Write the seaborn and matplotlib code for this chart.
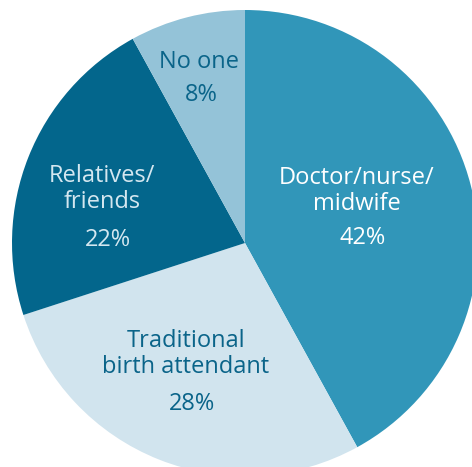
import matplotlib
matplotlib.use("Agg")
import matplotlib.pyplot as plt
import seaborn as sns

# ── Data ──────────────────────────────────────────────────────────────────────
categories = ["Doctor/nurse/\nmidwife", "Traditional\nbirth attendant", "Relatives/\nfriends", "No one"]
shares = [42, 28, 22, 8]
slice_colors = ["#3196b9", "#d1e4ee", "#03668c", "#94c3d8"]
text_colors = ["#ffffff", "#0a6489", "#d4e7f0", "#0a6489"]

# label centres (pixels in the 472x467 image) for name block and percentage
name_px = [(357, 191), (186, 354), (102, 189), (199, 62)]
pct_px = [(363, 238), (192, 404), (108, 240), (201, 95)]

# ── Layout ────────────────────────────────────────────────────────────────────
W, H = 472, 467
CX, CY, R = 245, 243, 233

sns.set_theme(style="white")
plt.rcParams["font.family"] = ["Open Sans", "DejaVu Sans"]

fig = plt.figure(figsize=(W / 100, H / 100), dpi=100)
ax = fig.add_axes([(CX - R) / W, (H - CY - R) / H, 2 * R / W, 2 * R / H])
ax.pie(shares, colors=slice_colors, startangle=90, counterclock=False,
       radius=1, wedgeprops=dict(linewidth=0))
ax.set_xlim(-1, 1)
ax.set_ylim(-1, 1)
ax.set_aspect("equal")
ax.axis("off")


def to_data(p):
    return (p[0] - CX) / R, (CY - p[1]) / R


for name, share, tc, npos, ppos in zip(categories, shares, text_colors, name_px, pct_px):
    x, y = to_data(npos)
    ax.text(x, y, name, ha="center", va="center", color=tc, fontsize=17,
            linespacing=1.1)
    x, y = to_data(ppos)
    ax.text(x, y, f"{share}%", ha="center", va="center", color=tc, fontsize=17)

fig.savefig("out.png", dpi=100)
